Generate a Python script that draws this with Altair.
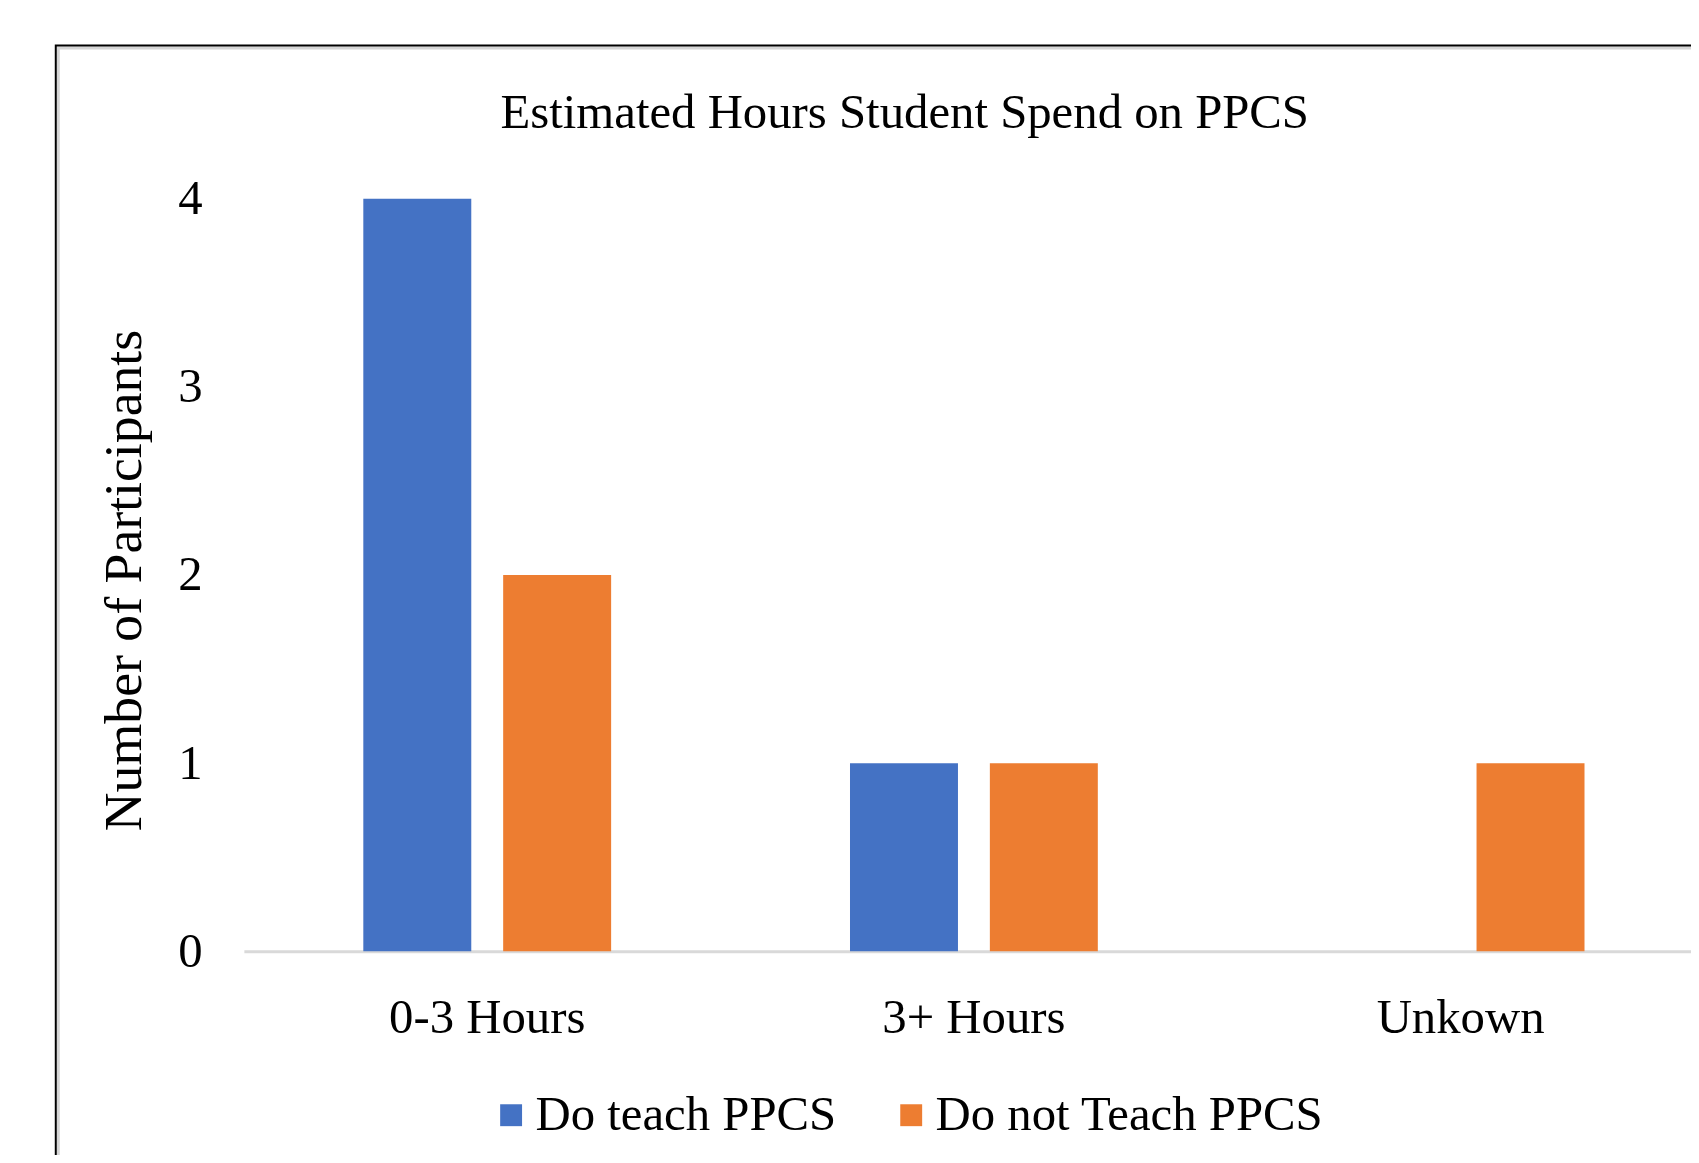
import altair as alt
import pandas as pd

categories = ["0-3 Hours", "3+ Hours", "Unkown"]
series = ["Do teach PPCS", "Do not Teach PPCS"]
do_teach = [4, 1, 0]
do_not_teach = [2, 1, 1]
y_ticks = [0, 1, 2, 3, 4]
colors = ["#4472C4", "#ED7D31"]

rows = []
for c, a, b in zip(categories, do_teach, do_not_teach):
    rows.append({"Category": c, "Series": series[0], "Value": a})
    rows.append({"Category": c, "Series": series[1], "Value": b})
df = pd.DataFrame(rows)

FONT = "Liberation Serif"

bars = alt.Chart(df).mark_bar().encode(
    x=alt.X(
        "Category:N",
        sort=categories,
        scale=alt.Scale(range=[0, 1467], paddingInner=0.4908, paddingOuter=0.2454),
        axis=alt.Axis(
            title=None, labelAngle=0, labelFontSize=49, labelPadding=67,
            labelBaseline="middle", ticks=False, domainColor="#D9D9D9",
            domainWidth=3, labelFont=FONT, labelColor="black", labelLimit=0,
        ),
    ),
    xOffset=alt.XOffset("Series:N", sort=series,
                        scale=alt.Scale(paddingInner=0.228, paddingOuter=0)),
    y=alt.Y(
        "Value:Q",
        scale=alt.Scale(domain=[0, 4], nice=False),
        axis=alt.Axis(
            values=y_ticks, title="Number of Participants", grid=False,
            ticks=False, domain=False, labelPadding=42, labelFontSize=49,
            labelFont=FONT, labelColor="black",
            titleFont=FONT, titleFontSize=54, titleFontWeight="normal",
            titleColor="black", titleX=-120, titleY=383, titleAlign="center",
            titleBaseline="middle", titleAngle=-90, titleLimit=0,
        ),
    ),
    color=alt.Color(
        "Series:N", sort=series,
        scale=alt.Scale(domain=series, range=colors),
        legend=alt.Legend(
            title=None, orient="none", direction="horizontal",
            legendX=244, legendY=896, symbolType="square", symbolSize=484,
            symbolStrokeWidth=0, labelFontSize=49, labelFont=FONT,
            labelColor="black", columnPadding=50, labelOffset=0, padding=0,
            labelLimit=0,
        ),
    ),
)

frame_df = pd.DataFrame({"k": [0]})
shadow = alt.Chart(frame_df).mark_rect(
    fillOpacity=0, stroke="#D6D6D6", strokeWidth=3
).encode(
    x=alt.value(-186.5), x2=alt.value(1600), y=alt.value(-151.5), y2=alt.value(1200)
)
frame = alt.Chart(frame_df).mark_rect(
    fillOpacity=0, stroke="black", strokeWidth=2
).encode(
    x=alt.value(-189), x2=alt.value(1600), y=alt.value(-154), y2=alt.value(1200)
)

chart = alt.layer(shadow, frame, bars).properties(
    width=1440,
    height=756,
    autosize=alt.AutoSizeParams(type="none"),
    padding={"left": 237, "top": 189, "right": 14, "bottom": 202},
    title=alt.TitleParams(
        "Estimated Hours Student Spend on PPCS", font=FONT, fontSize=49,
        fontWeight="normal", color="black", anchor="middle", frame="group",
        baseline="bottom", dx=-56, dy=147,
    ),
).configure(background="white").configure_view(stroke=None)

chart.save("out.html", embed_options={"renderer": "svg", "actions": False})
